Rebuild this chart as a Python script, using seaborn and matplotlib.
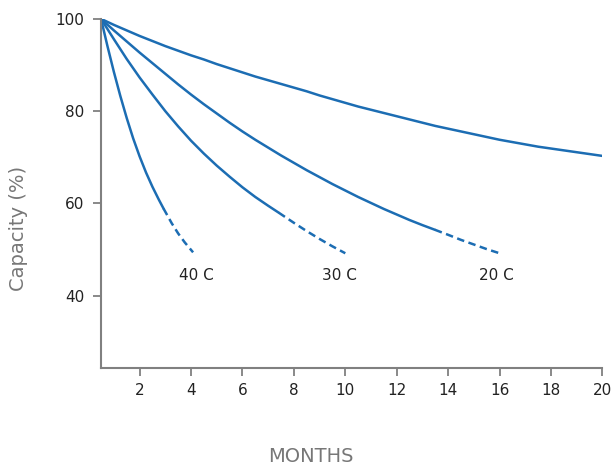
import pandas as pd
import seaborn as sns
import matplotlib.pyplot as plt

# Capacity curves (months, capacity %)
top_months = [0.5, 1, 1.5, 2, 2.5, 3, 3.5, 4, 4.5, 5, 5.5, 6, 6.5, 7, 7.5, 8, 8.5, 9,
              9.5, 10, 10.5, 11, 11.5, 12, 12.5, 13, 13.5, 14, 14.5, 15, 15.5, 16,
              16.5, 17, 17.5, 18, 18.5, 19, 19.5, 20]
top_cap = [100, 98.7, 97.5, 96.3, 95.2, 94.1, 93.1, 92.1, 91.2, 90.2, 89.3, 88.4, 87.5,
           86.7, 85.9, 85.1, 84.3, 83.4, 82.6, 81.8, 81.0, 80.3, 79.6, 78.9, 78.2, 77.5,
           76.8, 76.2, 75.6, 75.0, 74.4, 73.8, 73.3, 72.8, 72.3, 71.9, 71.5, 71.1, 70.7,
           70.3]

c20_months = [0.5, 1, 1.5, 2, 2.5, 3, 3.5, 4, 4.5, 5, 5.5, 6, 6.5, 7, 7.5, 8, 8.5, 9,
              9.5, 10, 10.5, 11, 11.5, 12, 12.5, 13, 13.48]
c20_cap = [100, 97.5, 95.1, 92.7, 90.4, 88.1, 85.8, 83.6, 81.5, 79.5, 77.5, 75.6, 73.8,
           72.1, 70.4, 68.8, 67.2, 65.7, 64.2, 62.8, 61.4, 60.1, 58.8, 57.6, 56.4, 55.3,
           54.3]
c20_dash_months = [13.48, 14, 14.5, 15, 15.5, 16]
c20_dash_cap = [54.3, 53.2, 52.1, 51.1, 50.1, 49.2]

c30_months = [0.5, 1, 1.5, 2, 2.5, 3, 3.5, 4, 4.5, 5, 5.5, 6, 6.5, 7, 7.41]
c30_cap = [100, 95.6, 91.3, 87.3, 83.6, 80.0, 76.7, 73.6, 70.8, 68.2, 65.8, 63.5, 61.4,
           59.5, 58.0]
c30_dash_months = [7.41, 8, 8.5, 9, 9.5, 10]
c30_dash_cap = [58.0, 55.8, 54.0, 52.3, 50.7, 49.2]

c40_months = [0.5, 0.75, 1, 1.25, 1.5, 1.75, 2, 2.25, 2.5, 2.75, 2.93]
c40_cap = [100, 94.1, 88.5, 83.3, 78.5, 74.1, 70.2, 66.7, 63.6, 60.8, 58.9]
c40_dash_months = [2.93, 3.25, 3.5, 3.75, 4.08]
c40_dash_cap = [58.9, 55.7, 53.5, 51.6, 49.4]

labels = ["40 C", "30 C", "20 C"]
label_x = [4.19, 9.78, 15.89]
label_y = [44.3, 44.3, 44.3]

x_ticks = [2, 4, 6, 8, 10, 12, 14, 16, 18, 20]
y_ticks = [40, 60, 80, 100]

sns.set_style("white")
plt.rcParams['font.family'] = ['DejaVu Sans']

blue = "#1c6db3"
grey = "#808080"

fig = plt.figure(figsize=(6.16, 4.72), dpi=100)
ax = fig.add_axes([0.164, 0.22, 0.814, 0.74])

solid = [(top_months, top_cap), (c20_months, c20_cap),
         (c30_months, c30_cap), (c40_months, c40_cap)]
dashed = [(c20_dash_months, c20_dash_cap), (c30_dash_months, c30_dash_cap),
          (c40_dash_months, c40_dash_cap)]

for xs, ys in solid:
    df = pd.DataFrame({"month": xs, "capacity": ys})
    sns.lineplot(data=df, x="month", y="capacity", ax=ax, color=blue,
                 linewidth=1.8, estimator=None)
for xs, ys in dashed:
    df = pd.DataFrame({"month": xs, "capacity": ys})
    sns.lineplot(data=df, x="month", y="capacity", ax=ax, color=blue,
                 linewidth=1.8, estimator=None, dashes=False,
                 linestyle=(0, (3, 1.8)))

for txt, lx, ly in zip(labels, label_x, label_y):
    ax.text(lx, ly, txt, ha="center", va="center", fontsize=11, color="#222222")

ax.set_xlim(0.5, 20)
ax.set_ylim(24.3, 100)
ax.set_xticks(x_ticks)
ax.set_yticks(y_ticks)
ax.tick_params(axis="both", direction="out", length=6, width=1.3, color=grey,
               labelsize=11, labelcolor="#222222", bottom=True, left=True)
ax.tick_params(axis="y", pad=6)
ax.tick_params(axis="x", pad=4.5)
for side in ["top", "right"]:
    ax.spines[side].set_visible(False)
for side in ["left", "bottom"]:
    ax.spines[side].set_color(grey)
    ax.spines[side].set_linewidth(1.5)

ax.set_xlabel("")
ax.set_ylabel("")
fig.text(0.505, 0.032, "MONTHS", ha="center", va="center", fontsize=14, color="#777777")
fig.text(0.03, 0.517, "Capacity (%)", ha="center", va="center", rotation=90,
         fontsize=14, color="#777777")

plt.savefig("out.png", dpi=100)
